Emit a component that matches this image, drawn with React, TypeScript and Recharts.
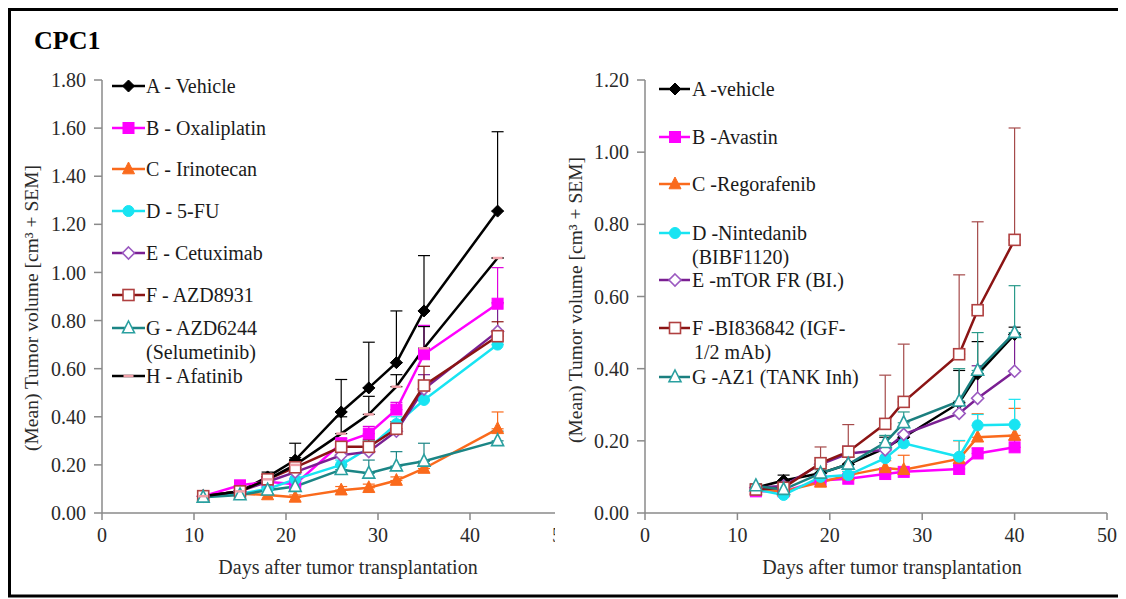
import React from 'react';
import { LineChart, Line, XAxis, YAxis, ErrorBar } from 'recharts';

const FONT = 'Liberation Serif';

// ---------- Left panel data ----------
const leftDays = [11, 15, 18, 21, 26, 29, 32, 35, 43];
const leftVehicle = [0.07, 0.09, 0.15, 0.22, 0.42, 0.52, 0.625, 0.84, 1.255];
const leftVehicleErr = [0.01, 0.01, 0.02, 0.07, 0.135, 0.19, 0.215, 0.23, 0.33];
const leftOxaliplatin = [0.07, 0.115, 0.13, 0.12, 0.29, 0.33, 0.43, 0.66, 0.87];
const leftOxaliplatinErr = [0.005, 0.01, 0.01, 0.01, 0.02, 0.03, 0.03, 0.12, 0.15];
const leftIrinotecan = [0.07, 0.08, 0.075, 0.065, 0.095, 0.105, 0.135, 0.185, 0.35];
const leftIrinotecanErr = [0.005, 0.005, 0.005, 0.01, 0.015, 0.015, 0.015, 0.02, 0.07];
const left5FU = [0.07, 0.08, 0.1, 0.14, 0.2, 0.27, 0.37, 0.47, 0.7];
const left5FUErr = [0.005, 0.01, 0.01, 0.02, 0.02, 0.03, 0.03, 0.04, 0.04];
const leftCetuximab = [0.07, 0.09, 0.13, 0.17, 0.24, 0.255, 0.34, 0.515, 0.755];
const leftCetuximabErr = [0.005, 0.01, 0.01, 0.02, 0.02, 0.03, 0.03, 0.06, 0.12];
const leftAZD8931 = [0.07, 0.09, 0.14, 0.19, 0.275, 0.275, 0.35, 0.53, 0.735];
const leftAZD8931Err = [0.005, 0.01, 0.01, 0.02, 0.02, 0.03, 0.03, 0.08, 0.06];
const leftAZD6244 = [0.065, 0.075, 0.095, 0.11, 0.18, 0.165, 0.195, 0.215, 0.3];
const leftAZD6244Err = [0.005, 0.01, 0.01, 0.01, 0.02, 0.055, 0.06, 0.075, 0.04];
const leftAfatinib = [0.07, 0.09, 0.14, 0.2, 0.33, 0.41, 0.525, 0.685, 1.06];
const leftAfatinibErr = [0.005, 0.01, 0.02, 0.03, 0.07, 0.075, 0.05, 0.09, 0.0];

// ---------- Right panel data ----------
const rightDays = [12, 15, 19, 22, 26, 28, 34, 36, 40];
const rightVehicle = [0.07, 0.09, 0.11, 0.135, 0.18, 0.21, 0.305, 0.385, 0.495];
const rightVehicleErr = [0.01, 0.015, 0.02, 0.02, 0.03, 0.03, 0.09, 0.09, 0.02];
const rightAvastin = [0.06, 0.06, 0.09, 0.095, 0.108, 0.114, 0.122, 0.165, 0.182];
const rightAvastinErr = [0.005, 0.005, 0.01, 0.01, 0.01, 0.01, 0.01, 0.015, 0.02];
const rightRegorafenib = [0.065, 0.06, 0.085, 0.105, 0.125, 0.12, 0.15, 0.21, 0.215];
const rightRegorafenibErr = [0.005, 0.005, 0.01, 0.01, 0.02, 0.04, 0.05, 0.065, 0.075];
const rightNintedanib = [0.065, 0.05, 0.1, 0.105, 0.152, 0.193, 0.156, 0.243, 0.245];
const rightNintedanibErr = [0.005, 0.005, 0.01, 0.01, 0.02, 0.03, 0.045, 0.03, 0.07];
const rightMTOR = [0.07, 0.075, 0.135, 0.165, 0.175, 0.218, 0.276, 0.318, 0.393];
const rightMTORErr = [0.005, 0.01, 0.01, 0.02, 0.02, 0.02, 0.03, 0.09, 0.1];
const rightBI836842 = [0.065, 0.07, 0.138, 0.17, 0.247, 0.308, 0.44, 0.562, 0.757];
const rightBI836842Err = [0.005, 0.01, 0.045, 0.075, 0.135, 0.16, 0.22, 0.245, 0.31];
const rightAZ1 = [0.075, 0.065, 0.11, 0.135, 0.195, 0.25, 0.31, 0.395, 0.5];
const rightAZ1Err = [0.005, 0.01, 0.01, 0.02, 0.02, 0.03, 0.09, 0.105, 0.13];

// ---------- Ticks ----------
const xTicks = [0, 10, 20, 30, 40, 50];
const leftYTicks = [0, 0.2, 0.4, 0.6, 0.8, 1.0, 1.2, 1.4, 1.6, 1.8];
const rightYTicks = [0, 0.2, 0.4, 0.6, 0.8, 1.0, 1.2];

const title = 'CPC1';
const yTitle = '(Mean) Tumor volume [cm³ + SEM]';
const xTitle = 'Days after tumor transplantation';

type Shape = 'diamond' | 'square' | 'triangle' | 'circle' | 'dash';
interface Series {
  key: string;
  label: string[];
  values: number[];
  errors: number[];
  color: string;
  shape: Shape;
  markerFill: string;
  markerStroke: string;
  errColor: string;
  legendY: number;
}

const leftSeries: Series[] = [
  { key: 'A', label: ['A - Vehicle'], values: leftVehicle, errors: leftVehicleErr, color: '#000000', shape: 'diamond', markerFill: '#000000', markerStroke: '#000000', errColor: '#000000', legendY: 86 },
  { key: 'B', label: ['B - Oxaliplatin'], values: leftOxaliplatin, errors: leftOxaliplatinErr, color: '#ff00ff', shape: 'square', markerFill: '#ff00ff', markerStroke: '#ff00ff', errColor: '#e000e0', legendY: 128 },
  { key: 'C', label: ['C - Irinotecan'], values: leftIrinotecan, errors: leftIrinotecanErr, color: '#fa6a1c', shape: 'triangle', markerFill: '#fa6a1c', markerStroke: '#fa6a1c', errColor: '#fa6a1c', legendY: 169 },
  { key: 'D', label: ['D - 5-FU'], values: left5FU, errors: left5FUErr, color: '#18e4f2', shape: 'circle', markerFill: '#18e4f2', markerStroke: '#18e4f2', errColor: '#18e4f2', legendY: 211 },
  { key: 'E', label: ['E - Cetuximab'], values: leftCetuximab, errors: leftCetuximabErr, color: '#7a1f92', shape: 'diamond', markerFill: '#ffffff', markerStroke: '#9b59c0', errColor: '#7a1f92', legendY: 253 },
  { key: 'F', label: ['F - AZD8931'], values: leftAZD8931, errors: leftAZD8931Err, color: '#8b1414', shape: 'square', markerFill: '#ffffff', markerStroke: '#b04040', errColor: '#8b1414', legendY: 295 },
  { key: 'G', label: ['G - AZD6244', '(Selumetinib)'], values: leftAZD6244, errors: leftAZD6244Err, color: '#1b8585', shape: 'triangle', markerFill: '#ffffff', markerStroke: '#2aa0a0', errColor: '#1b8585', legendY: 328 },
  { key: 'H', label: ['H - Afatinib'], values: leftAfatinib, errors: leftAfatinibErr, color: '#000000', shape: 'dash', markerFill: '#f0a0a8', markerStroke: '#f0a0a8', errColor: '#000000', legendY: 376 },
];

const rightSeries: Series[] = [
  { key: 'A', label: ['A -vehicle'], values: rightVehicle, errors: rightVehicleErr, color: '#000000', shape: 'diamond', markerFill: '#000000', markerStroke: '#000000', errColor: '#000000', legendY: 89 },
  { key: 'B', label: ['B -Avastin'], values: rightAvastin, errors: rightAvastinErr, color: '#ff00ff', shape: 'square', markerFill: '#ff00ff', markerStroke: '#ff00ff', errColor: '#e000e0', legendY: 137 },
  { key: 'C', label: ['C -Regorafenib'], values: rightRegorafenib, errors: rightRegorafenibErr, color: '#fa6a1c', shape: 'triangle', markerFill: '#fa6a1c', markerStroke: '#fa6a1c', errColor: '#fa6a1c', legendY: 184 },
  { key: 'D', label: ['D -Nintedanib', '(BIBF1120)'], values: rightNintedanib, errors: rightNintedanibErr, color: '#18e4f2', shape: 'circle', markerFill: '#18e4f2', markerStroke: '#18e4f2', errColor: '#18e4f2', legendY: 233 },
  { key: 'E', label: ['E -mTOR FR (BI.)'], values: rightMTOR, errors: rightMTORErr, color: '#7a1f92', shape: 'diamond', markerFill: '#ffffff', markerStroke: '#9b59c0', errColor: '#7a1f92', legendY: 280 },
  { key: 'F', label: ['F -BI836842 (IGF-', '1/2 mAb)'], values: rightBI836842, errors: rightBI836842Err, color: '#8b1414', shape: 'square', markerFill: '#ffffff', markerStroke: '#b04040', errColor: '#a54a4a', legendY: 328 },
  { key: 'G', label: ['G -AZ1 (TANK Inh)'], values: rightAZ1, errors: rightAZ1Err, color: '#1b7f7f', shape: 'triangle', markerFill: '#ffffff', markerStroke: '#2aa0a0', errColor: '#2a9a8a', legendY: 377 },
];

function buildData(days: number[], series: Series[]) {
  return days.map((d, i) => {
    const row: Record<string, any> = { day: d };
    series.forEach((s) => {
      row[s.key] = s.values[i];
      row[s.key + '_err'] = [0, s.errors[i]];
    });
    return row;
  });
}

const leftData = buildData(leftDays, leftSeries);
const rightData = buildData(rightDays, rightSeries);

function Marker({ cx, cy, s }: { cx: number; cy: number; s: Series }) {
  if (cx == null || cy == null || isNaN(cx) || isNaN(cy)) return null;
  const filled = s.markerFill !== '#ffffff';
  const sw = filled ? 1 : 1.6;
  switch (s.shape) {
    case 'diamond': {
      const r = 6;
      return <polygon points={`${cx},${cy - r} ${cx + r},${cy} ${cx},${cy + r} ${cx - r},${cy}`} fill={s.markerFill} stroke={s.markerStroke} strokeWidth={sw} />;
    }
    case 'square': {
      const r = 5.5;
      return <rect x={cx - r} y={cy - r} width={2 * r} height={2 * r} fill={s.markerFill} stroke={s.markerStroke} strokeWidth={sw} />;
    }
    case 'triangle': {
      const r = 6;
      return <polygon points={`${cx},${cy - r - 1} ${cx + r},${cy + r * 0.8} ${cx - r},${cy + r * 0.8}`} fill={s.markerFill} stroke={s.markerStroke} strokeWidth={sw} />;
    }
    case 'circle':
      return <circle cx={cx} cy={cy} r={5.5} fill={s.markerFill} stroke={s.markerStroke} strokeWidth={sw} />;
    case 'dash':
      return <line x1={cx - 5} x2={cx + 5} y1={cy} y2={cy} stroke={s.markerStroke} strokeWidth={2.5} />;
  }
  return null;
}

const tickStyle = { fontFamily: FONT, fontSize: 20, fill: '#2a2a2a' };
const axisStroke = '#8a8a8a';

function renderChart(data: any[], series: Series[], yTicks: number[], yMax: number, width: number, margin: any) {
  return (
    <LineChart width={width} height={580} data={data} margin={margin} style={{ fontFamily: FONT }}>
      <XAxis
        dataKey="day"
        type="number"
        domain={[0, 50]}
        ticks={xTicks}
        interval={0}
        allowDataOverflow
        tick={tickStyle}
        tickSize={7}
        tickMargin={8}
        height={40}
        axisLine={{ stroke: axisStroke, strokeWidth: 1.5 }}
        tickLine={{ stroke: axisStroke, strokeWidth: 1.5 }}
      />
      <YAxis
        type="number"
        domain={[0, yMax]}
        ticks={yTicks}
        interval={0}
        allowDataOverflow
        width={60}
        tick={tickStyle}
        tickSize={8}
        tickMargin={8}
        tickFormatter={(v: number) => v.toFixed(2)}
        axisLine={{ stroke: axisStroke, strokeWidth: 1.5 }}
        tickLine={{ stroke: axisStroke, strokeWidth: 1.5 }}
      />
      {series.map((s) => (
        <Line
          key={s.key}
          dataKey={s.key}
          type="linear"
          stroke={s.color}
          strokeWidth={2.5}
          isAnimationActive={false}
          activeDot={false}
          dot={(p: any) => <Marker key={`${s.key}-${p.index}`} cx={p.cx} cy={p.cy} s={s} />}
        >
          <ErrorBar dataKey={s.key + '_err'} direction="y" width={6} stroke={s.errColor} strokeWidth={1.2} isAnimationActive={false} />
        </Line>
      ))}
    </LineChart>
  );
}

function Legend({ series, x1, x2, mx, tx }: { series: Series[]; x1: number; x2: number; mx: number; tx: number }) {
  return (
    <g>
      {series.map((s) => (
        <g key={s.key}>
          <line x1={x1} x2={x2} y1={s.legendY} y2={s.legendY} stroke={s.color} strokeWidth={2.5} />
          <Marker cx={mx} cy={s.legendY} s={s} />
          {s.label.map((t, i) => (
            <text key={i} x={tx + (i > 0 && s.key === 'F' ? 2 : 0)} y={s.legendY + 7 + i * 24} fontSize={20} fill="#1a1a1a">
              {t}
            </text>
          ))}
        </g>
      ))}
    </g>
  );
}

export default function App() {
  return (
    <div style={{ position: 'relative', width: 1118, height: 591, background: '#fff', fontFamily: FONT }}>
      <div style={{ position: 'absolute', left: 3, top: 3 }}>
        {renderChart(leftData, leftSeries, leftYTicks, 1.8, 560, { top: 69, right: 9, bottom: 38, left: 31 })}
      </div>
      <div style={{ position: 'absolute', left: 547, top: 3, background: '#fff' }}>
        {renderChart(rightData, rightSeries, rightYTicks, 1.2, 565, { top: 69, right: 13, bottom: 38, left: 30 })}
      </div>
      <svg width={1118} height={591} style={{ position: 'absolute', left: 0, top: 0, pointerEvents: 'none', fontFamily: FONT }}>
        <g transform="translate(-8,-8)">
          <rect x={9.5} y={9.5} width={1112} height={586.5} fill="none" stroke="#000" strokeWidth={3} />
          <text x={34} y={49} fontSize={26} fontWeight="bold" fill="#000">{title}</text>
          <Legend series={leftSeries} x1={112} x2={145} mx={128.5} tx={146} />
          <Legend series={rightSeries} x1={659} x2={690} mx={675} tx={692} />
          <text x={348} y={574} textAnchor="middle" fontSize={20} fill="#2a2a2a">{xTitle}</text>
          <text x={892} y={574} textAnchor="middle" fontSize={20} fill="#2a2a2a">{xTitle}</text>
          <text transform="translate(38,308) rotate(-90)" textAnchor="middle" fontSize={19.5} fill="#2a2a2a">{yTitle}</text>
          <text transform="translate(582,300) rotate(-90)" textAnchor="middle" fontSize={19.5} fill="#2a2a2a">{yTitle}</text>
        </g>
      </svg>
    </div>
  );
}
